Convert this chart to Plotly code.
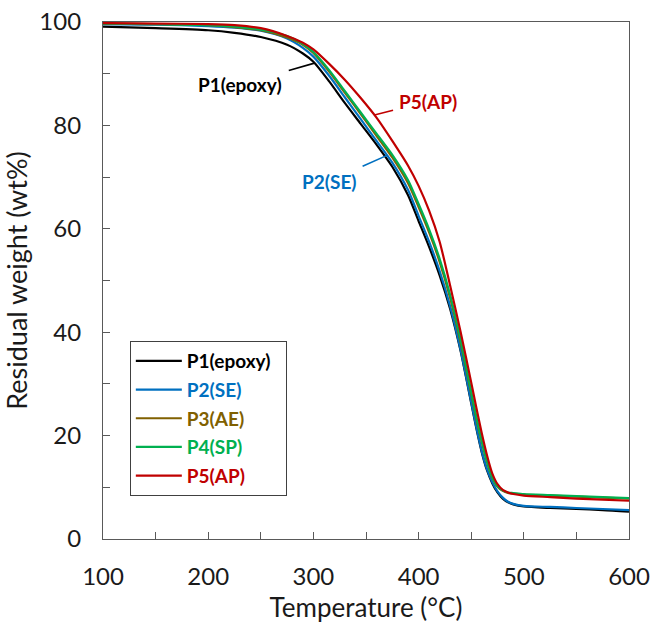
import numpy as np
import plotly.graph_objects as go

# Temperature grid (°C)
temperature = [100, 150, 200, 225, 250, 275, 290, 300, 315, 330, 345, 360, 375,
               390, 400, 410, 420, 430, 440, 450, 455, 460, 465, 470, 475, 480,
               485, 490, 500, 525, 550, 575, 600]

# Residual weight (wt%) for each formulation
p1_epoxy = [99.1, 98.8, 98.4, 97.9, 97.1, 95.6, 93.9, 92.3, 88.5, 84.3, 80.3, 76.3, 72.0,
            66.5, 61.5, 56.5, 51.0, 44.5, 36.3, 26.3, 21.3, 16.8, 13.3, 10.8, 9.0, 7.8,
            7.1, 6.7, 6.3, 6.0, 5.8, 5.6, 5.3]
p2_se = [99.6, 99.5, 99.2, 98.9, 98.3, 96.8, 95.0, 93.3, 89.6, 85.4, 81.2, 77.0, 72.8,
         67.5, 62.5, 57.5, 51.8, 45.0, 36.5, 26.5, 21.5, 17.0, 13.5, 11.0, 9.2, 8.0,
         7.2, 6.8, 6.4, 6.2, 6.0, 5.8, 5.6]
p3_ae = [99.7, 99.6, 99.4, 99.0, 98.4, 97.0, 95.6, 94.0, 90.4, 86.3, 82.2, 78.0, 73.8,
         68.8, 64.2, 59.3, 53.6, 46.6, 38.0, 28.2, 23.2, 18.8, 14.9, 11.9, 10.1, 9.3,
         8.9, 8.8, 8.6, 8.4, 8.2, 8.0, 7.8]
p4_sp = [99.7, 99.6, 99.4, 99.1, 98.5, 97.3, 95.8, 94.2, 90.7, 86.6, 82.5, 78.4, 74.3,
         69.4, 64.8, 59.9, 54.2, 47.2, 38.5, 28.5, 23.5, 19.0, 15.0, 12.0, 10.2, 9.4,
         9.0, 8.9, 8.7, 8.5, 8.3, 8.1, 7.9]
p5_ap = [99.8, 99.7, 99.6, 99.4, 98.8, 97.3, 96.0, 94.7, 91.9, 88.8, 85.3, 81.5, 77.0,
         72.2, 68.3, 63.5, 57.5, 49.0, 40.0, 30.3, 25.3, 20.5, 16.2, 12.7, 10.6, 9.5,
         9.0, 8.7, 8.4, 8.1, 7.8, 7.6, 7.4]

series_names = ["P1(epoxy)", "P2(SE)", "P3(AE)", "P4(SP)", "P5(AP)"]
series_values = [p1_epoxy, p2_se, p3_ae, p4_sp, p5_ap]
series_colors = ["#000000", "#0070C0", "#806000", "#00B050", "#C00000"]

x_ticks = [100, 200, 300, 400, 500, 600]
y_ticks = [0, 20, 40, 60, 80, 100]

FONT = "Lato"
AXIS_GREY = "#595959"
TEXT_DARK = "#1a1a1a"
LEGEND_PAD = "&nbsp;" * 2   # a little extra room on the right side of the legend box

fig = go.Figure()
for i, (name, vals, col) in enumerate(zip(series_names, series_values, series_colors)):
    fig.add_trace(go.Scatter(
        x=temperature, y=vals, mode="lines",
        line=dict(color=col, width=2.2, shape="spline", smoothing=0.7),
        name=f"<b><span style='color:{col}'>{name}</span></b>{LEGEND_PAD}",
        legendgroup=f"g{i}",
    ))

# Callout labels with leader lines pointing at the curves
callouts = [
    ("P1(epoxy)", p1_epoxy, 301, "#000000", -74, 21),
    ("P5(AP)", p5_ap, 358, "#C00000", 54, -14),
    ("P2(SE)", p2_se, 370, "#0070C0", -58, 26),
]
for text, vals, t, col, ax, ay in callouts:
    fig.add_annotation(
        x=t, y=float(np.interp(t, temperature, vals)),
        text=f"<b>{text}</b>", font=dict(family=FONT, size=19, color=col),
        showarrow=True, arrowhead=0, arrowwidth=1.6, arrowcolor=col,
        ax=ax, ay=ay, standoff=0, startstandoff=5,
    )

axis_common = dict(
    showline=True, linecolor=AXIS_GREY, linewidth=1.2, mirror=True,
    ticks="inside", ticklen=7, tickcolor=AXIS_GREY, tickwidth=1.2,
    showgrid=False, zeroline=False, automargin=False,
    tickfont=dict(family=FONT, size=24, color=TEXT_DARK),
)

fig.update_xaxes(
    range=[100, 600], tickvals=x_ticks,
    minor=dict(ticks="inside", dtick=50, ticklen=7, tickcolor=AXIS_GREY, tickwidth=1.2),
    title=dict(text="Temperature (°C)", font=dict(family=FONT, size=26, color=TEXT_DARK), standoff=12),
    ticklabelstandoff=16,
    **axis_common,
)
fig.update_yaxes(
    range=[0, 100], tickvals=y_ticks,
    minor=dict(ticks="inside", dtick=10, ticklen=7, tickcolor=AXIS_GREY, tickwidth=1.2),
    title=dict(text="Residual weight (wt%)", font=dict(family=FONT, size=27, color=TEXT_DARK), standoff=14),
    ticklabelstandoff=16,
    **axis_common,
)

fig.update_layout(
    width=651, height=623,
    margin=dict(l=103, r=22, t=22, b=84),
    paper_bgcolor="white", plot_bgcolor="white",
    font=dict(family=FONT),
    legend=dict(
        x=0.051, y=0.383, xanchor="left", yanchor="top",
        bgcolor="white", bordercolor="#404040", borderwidth=1,
        font=dict(family=FONT, size=19), tracegroupgap=1, itemwidth=46,
    ),
)

fig.write_html("out.html")
